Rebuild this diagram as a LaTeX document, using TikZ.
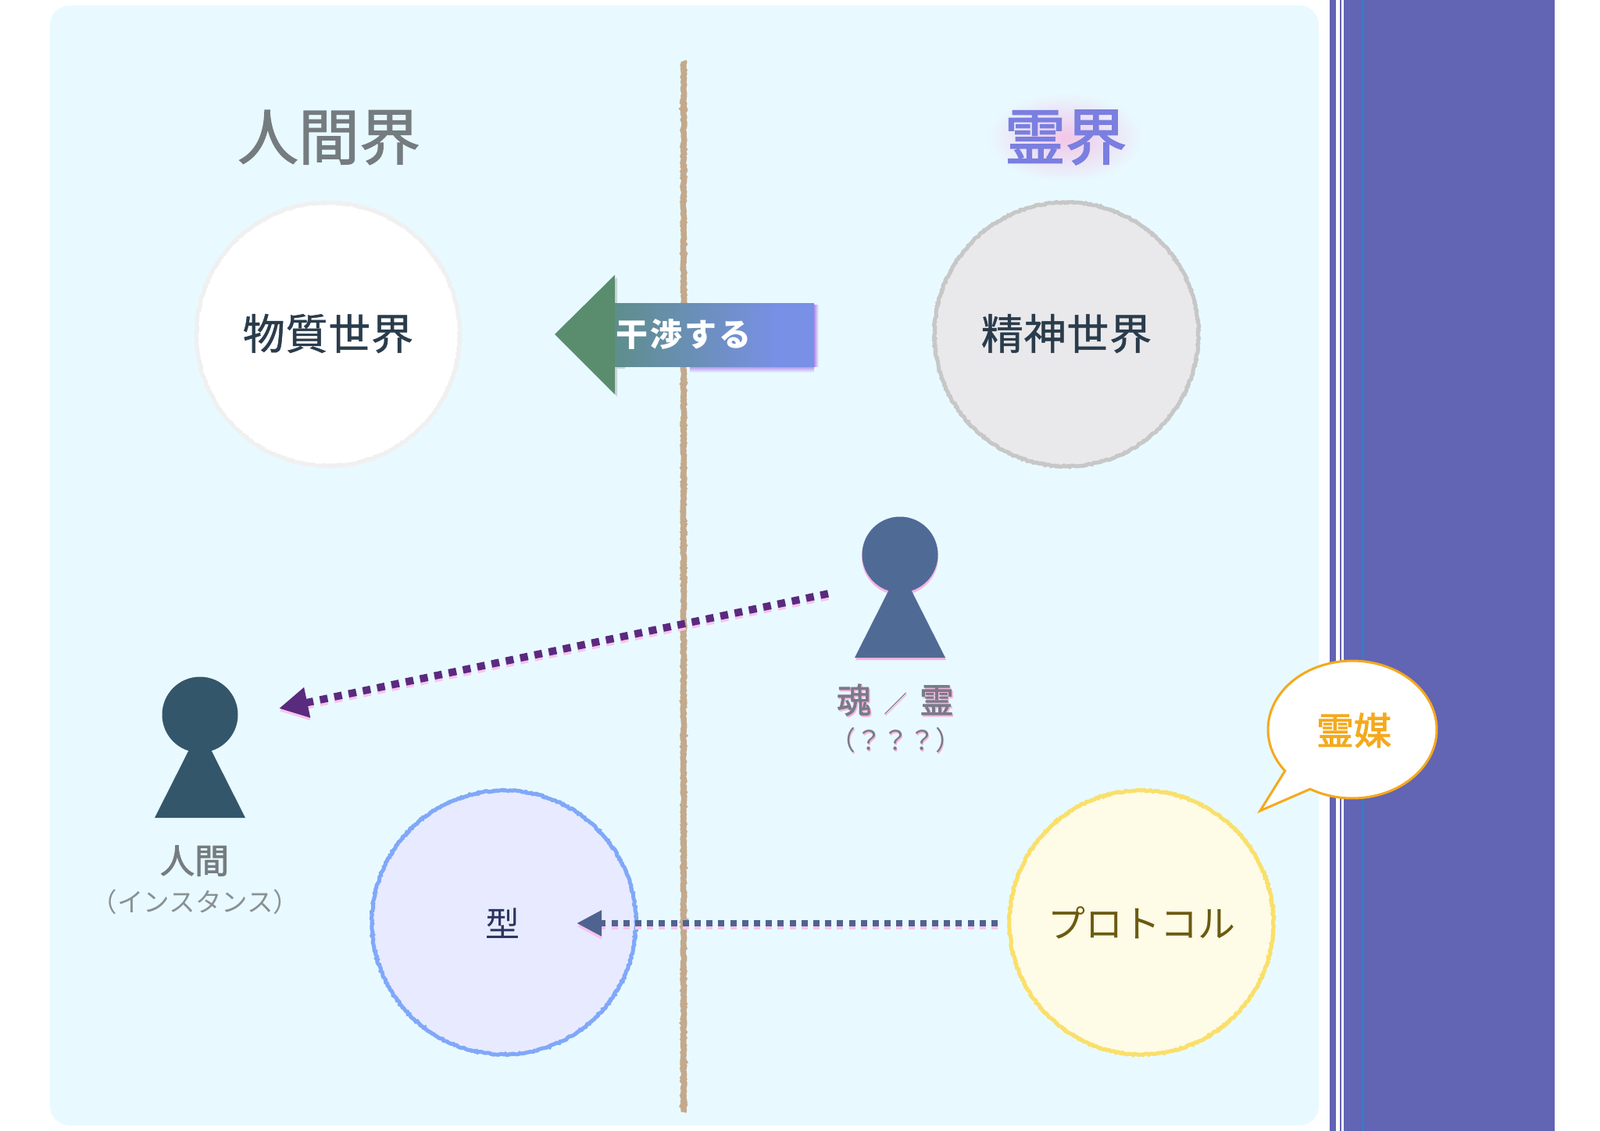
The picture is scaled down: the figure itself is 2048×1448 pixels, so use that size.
\documentclass[tikz,border=0pt]{standalone}
\usepackage{fontspec}
\setmainfont{Noto Sans CJK JP}
\newfontfamily\airyfont[LetterSpace=1.5]{Noto Sans CJK JP}
\newfontfamily\pushfont[LetterSpace=7]{Noto Sans CJK JP}
\usetikzlibrary{arrows.meta,decorations.pathmorphing,shapes.geometric}
\definecolor{panelc}{HTML}{E8FAFF}
\definecolor{stripec}{HTML}{6264B4}
\definecolor{bluelinec}{HTML}{3E78C8}
\definecolor{divc}{HTML}{C4A98C}
\definecolor{soulc}{HTML}{506A96}
\definecolor{humanc}{HTML}{34566A}
\definecolor{pinkc}{HTML}{F6B4E0}
\definecolor{softpink}{HTML}{F9C4EC}
\definecolor{greyt}{HTML}{757C80}
\definecolor{soult}{HTML}{7A7A88}
\definecolor{inkc}{HTML}{2A3C4C}
\definecolor{spiritc}{HTML}{7A7FE0}
\definecolor{arrowpc}{HTML}{5A2A7E}
\definecolor{arrowbc}{HTML}{4F6390}
\definecolor{orangec}{HTML}{F5A91C}
\definecolor{greenarrow}{HTML}{5A8C6E}
\definecolor{tealarrow}{HTML}{5E8E8C}
\definecolor{bluearrow}{HTML}{7890E6}
\definecolor{glowc}{HTML}{B48CF0}
\pgfdeclarehorizontalshading{pushshade}{100bp}{
  color(0bp)=(tealarrow); color(25bp)=(tealarrow);
  color(66bp)=(bluearrow); color(100bp)=(bluearrow)}
\newcommand{\softcopy}[2]{\makebox[0pt][l]{\raisebox{-2pt}{\kern1.5pt\textcolor{#1}{#2}}}#2}
\newcommand{\fsz}[1]{\fontsize{#1pt}{#1pt}\selectfont}
\newcommand{\heavy}[2]{\special{pdf:code q 2 Tr #1 w}#2\special{pdf:code Q}}
\tikzset{
  rough/.style={decorate,decoration={random steps,segment length=2pt,amplitude=0.9pt}},
  world/.style={circle,inner sep=0pt,outer sep=0pt,rough,line width=5pt},
  txt/.style={inner sep=0pt,outer sep=0pt,align=center},
  dots/.style={line width=9.5pt,dash pattern=on 10pt off 8.7pt},
  dotsb/.style={line width=8pt,dash pattern=on 8pt off 7.2pt},
  headdisc/.style={circle,inner sep=0pt,outer sep=0pt,minimum size=97pt}
}
\begin{document}
\begin{tikzpicture}[x=1pt,y=-1pt]
\useasboundingbox (0,0) rectangle (2048,1448);
\fill[white] (0,0) rectangle (2048,1448);
% side stripe
\fill[stripec] (1702,0) rectangle (1990,1448);
\fill[white] (1710,0) rectangle (1715,1448);
\fill[white] (1717,0) rectangle (1719.5,1448);
\fill[bluelinec] (1743,0) rectangle (1745.5,1448);
% panel
\fill[panelc,rounded corners=25pt] (64,7) rectangle (1688,1441);
% divider
\coordinate (divtop) at (875,78);
\coordinate (divbot) at (875,1424);
\draw[divc,line width=7.5pt,rough] (divtop) -- (divbot);
% worlds
\node[world,draw=black!6,fill=white,minimum size=337pt] (matter) at (420,428) {};
\node[world,draw=black!22,fill={rgb,255:red,233;green,232;blue,235},minimum size=338pt] (mind) at (1365,428) {};
\node[world,draw={rgb,255:red,128;green,168;blue,248},fill={rgb,255:red,232;green,234;blue,255},minimum size=338pt] (typec) at (645,1181) {};
\node[world,draw={rgb,255:red,250;green,223;blue,106},fill={rgb,255:red,254;green,251;blue,230},minimum size=338pt] (proto) at (1461,1181) {};
\node[txt,text=inkc,font=\fsz{54}\airyfont] (matterl) at (420,427) {\heavy{0.5}{物質世界}};
\node[txt,text=inkc,font=\fsz{54}\airyfont] (mindl) at (1365,427) {\heavy{0.5}{精神世界}};
\node[txt,text={rgb,255:red,42;green,53;blue,96},font=\fsz{44}] (typel) at (643,1182) {型};
\node[txt,text={rgb,255:red,107;green,90;blue,16},font=\fsz{48}] (protol) at (1461,1181) {プロトコル};
% titles
\node[txt,text=greyt,font=\fsz{78}] (humantitle) at (421,176) {\heavy{1.2}{人間界}};
\shade[inner color=pinkc!75!panelc,outer color=panelc] (1364,176) ellipse[x radius=102,y radius=58];
\node[txt,text=spiritc,font=\fsz{78}] (spirittitle) at (1364,176) {\heavy{1.8}{霊界}};
% big arrow shadows
\fill[black,opacity=.14] (713,431) -- (790,355) -- (790,391) -- (800,391) -- (800,472) -- (790,472) -- (790,508) -- cycle;
\shade[top color=glowc,bottom color=panelc] (883,469) rectangle (1042,477);
\shade[left color=glowc,right color=panelc] (1042,390) rectangle (1048,469);
% big arrow
\fill[greenarrow] (710,428) -- (787,352) -- (787,505) -- cycle;
\shade[shading=pushshade] (787,388) rectangle (1042,469);
\node[txt,text=white,font=\fsz{41}\pushfont\bfseries] (pushl) at (875,428) {干渉する};
% soul figure
\fill[pinkc] (1095,845) -- (1152,730) -- (1211,845) -- cycle;
\fill[pinkc] (1152,713) circle[radius=49];
\node[headdisc,fill=soulc] (soul) at (1152,710) {};
\fill[soulc] (1094,842) -- (1152,727) -- (1210,842) -- cycle;
% human figure
\node[headdisc,fill=humanc] (human) at (256,915) {};
\fill[humanc] (198,1047) -- (256,932) -- (314,1047) -- cycle;
% figure labels
\node[txt,text=greyt,font=\fsz{44}] (humanl) at (249,1102) {\heavy{0.9}{人間}};
\node[txt,text=greyt!85,font=\fsz{33.5}] (humans) at (250,1155) {（インスタンス）};
\node[txt,text=soult,font=\fsz{44}] (soull) at (1146,897) {\softcopy{pinkc}{\heavy{0.9}{魂}\hspace{16pt}{\fsz{30}／}\hspace{16pt}\heavy{0.9}{霊}}};
\node[txt,text=soult,font=\fsz{34}] (souls) at (1146,949) {\softcopy{pinkc}{（？？？）}};
% dotted arrows
\coordinate (aas) at (1060,760);
\coordinate (aae) at (357,907);
\coordinate (bbs) at (1277,1182);
\coordinate (bbe) at (738,1182);
\draw[softpink,dots,-{Triangle[length=37pt,width=37pt]}] ([yshift=-3.5pt]aas) -- ([yshift=-3.5pt]aae);
\draw[arrowpc,dots,-{Triangle[length=37pt,width=37pt]}] (aas) -- (aae);
\draw[softpink,dotsb,-{Triangle[length=32pt,width=31pt]}] ([yshift=-4pt]bbs) -- ([yshift=-4pt]bbe);
\draw[arrowbc,dotsb,-{Triangle[length=32pt,width=31pt]}] (bbs) -- (bbe);
% callout
\draw[orangec,fill=white,line width=3pt,line join=miter] plot[domain=120:-217,samples=120] ({1731+108*cos(\x)},{934+88*sin(\x)}) -- (1613,1038) -- cycle;
\node[txt,text=orangec,font=\fsz{48}] (medium) at (1733,935) {\heavy{1}{霊媒}};
\end{tikzpicture}
\end{document}
